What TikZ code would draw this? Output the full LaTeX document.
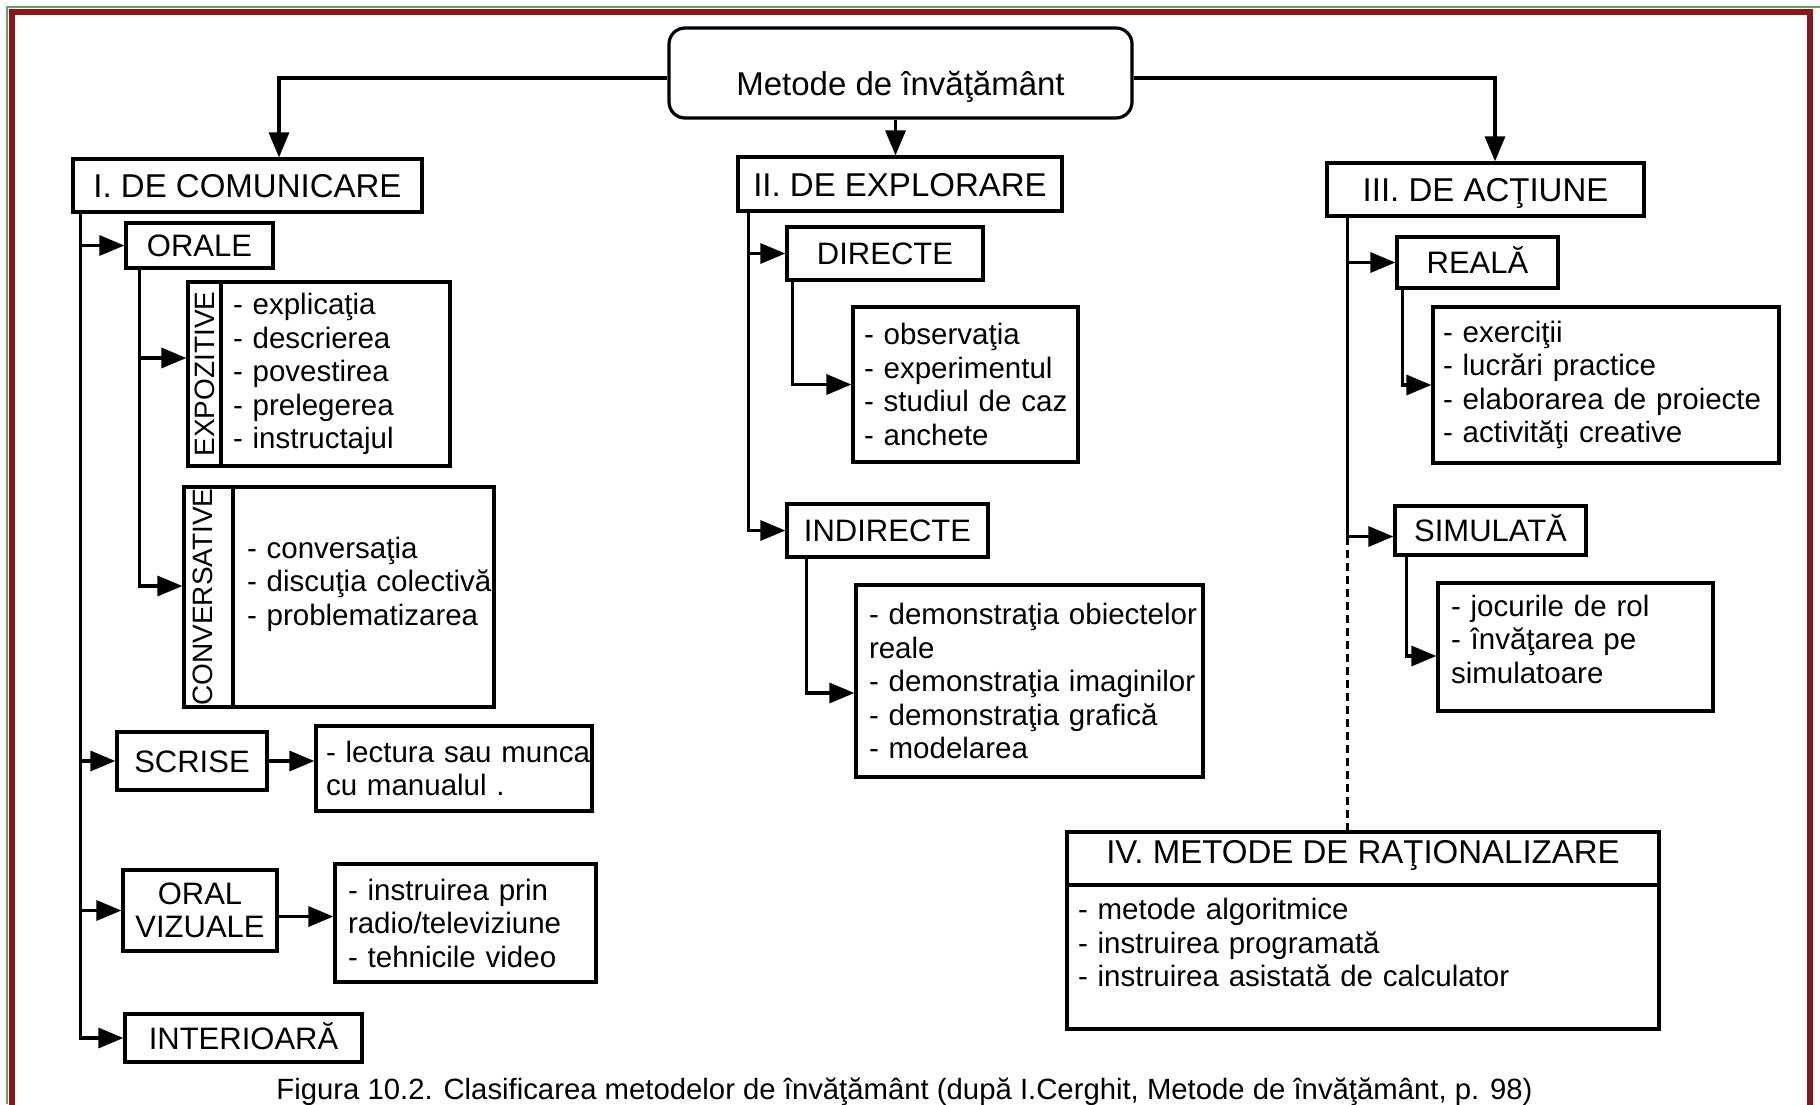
\documentclass[tikz,border=0pt]{standalone}
\usepackage{fontspec}
\setmainfont{Liberation Sans}
\usetikzlibrary{arrows.meta}
\newcommand\HeadF{\fontsize{33}{38}\selectfont}
\newcommand\SubF{\fontsize{31}{33.5}\selectfont}
\newcommand\ItemF{\fontsize{29.5}{33.5}\selectfont}
\newcommand\VertF{\fontsize{28}{30}\selectfont}
\newcommand\CapF{\fontsize{29.3}{32}\selectfont}
\newcommand\Lyne[1]{\mbox{#1}}
\definecolor{framered}{RGB}{140,22,22}
\definecolor{framegreen}{RGB}{104,160,112}
\tikzset{
  bx/.style={draw, line width=3.2pt, inner sep=0pt, align=center},
  head/.style={bx, font=\HeadF, text height=24pt, text depth=0pt},
  sub/.style={bx, font=\SubF, text height=22pt, text depth=0pt},
  lst/.style={bx, font=\ItemF, align=left, inner ysep=0pt},
  vlab/.style={bx, font=\VertF, rotate=90, text height=20pt, text depth=0pt},
  con/.style={line width=3.2pt},
  arr/.style={con, -{Triangle[length=25pt,width=20pt]}},
  dsh/.style={line width=2.6pt, dash pattern=on 8pt off 5pt},
}
\begin{document}
\begin{tikzpicture}[x=1pt,y=-1pt]
\useasboundingbox (0,0) rectangle (1820,1104);
\fill[white] (0,0) rectangle (1820,1104);
% frame
\draw[framegreen, line width=2pt] (7,1104) -- (7,7) -- (1820,7);
\draw[framered, line width=6pt] (11.5,12) rectangle (1809.5,1112);

% top
\node[head, minimum width=463pt, minimum height=90pt, rounded corners=16pt, text height=60pt, text depth=16pt] (top) at (900.5,73) {Metode de învăţământ};

% level 1
\node[head, minimum width=349pt, minimum height=53pt] (I) at (247.5,185.5) {I. DE COMUNICARE};
\node[head, minimum width=324pt, minimum height=54pt] (II) at (900,184) {II. DE EXPLORARE};
\node[head, minimum width=317pt, minimum height=53pt] (III) at (1485.5,189.5) {III. DE ACŢIUNE};

% I. column
\node[sub, minimum width=147pt, minimum height=45pt] (orale) at (199.5,245.5) {ORALE};
\node[vlab, minimum width=184pt, minimum height=33pt] (expL) at (204.5,374) {EXPOZITIVE};
\node[lst, inner xsep=12pt, text width=205pt, minimum height=184pt] (expT) at (335.5,374)
  {\Lyne{- explicaţia}\\\Lyne{- descrierea}\\\Lyne{- povestirea}\\\Lyne{- prelegerea}\\\Lyne{- instructajul}};
\node[vlab, minimum width=220pt, minimum height=49pt, text depth=12pt] (convL) at (208.5,597) {CONVERSATIVE};
\node[lst, inner xsep=14pt, text width=233pt, minimum height=220pt, text depth=99pt] (convT) at (363.5,597)
  {\Lyne{- conversaţia}\\\Lyne{- discuţia colectivă}\\\Lyne{- problematizarea}};
\node[sub, minimum width=150pt, minimum height=58pt] (scrise) at (192,761) {SCRISE};
\node[lst, inner xsep=10pt, text width=256pt, minimum height=85pt] (lect) at (454,768.5)
  {\Lyne{- lectura sau munca}\\\Lyne{cu manualul .}};
\node[bx, font=\SubF, minimum width=154pt, minimum height=81pt] (ov) at (200,910.5) {ORAL\\VIZUALE};
\node[lst, inner xsep=13pt, text width=235pt, minimum height=118pt] (instr) at (465.5,923)
  {\Lyne{- instruirea prin}\\\Lyne{radio/televiziune}\\\Lyne{- tehnicile video}};
\node[sub, minimum width=237pt, minimum height=48pt] (inter) at (243.5,1038) {INTERIOARĂ};

% II. column
\node[sub, minimum width=196pt, minimum height=53pt] (direct) at (885,253.5) {DIRECTE};
\node[lst, inner xsep=11pt, text width=203pt, minimum height=155pt] (obs) at (965.5,384.5)
  {\Lyne{- observaţia}\\\Lyne{- experimentul}\\\Lyne{- studiul de caz}\\\Lyne{- anchete}};
\node[sub, minimum width=201pt, minimum height=53pt] (indir) at (887.5,530.5) {INDIRECTE};
\node[lst, inner xsep=13pt, text width=321pt, minimum height=192pt] (demo) at (1029.5,681)
  {\Lyne{- demonstraţia obiectelor}\\\Lyne{reale}\\\Lyne{- demonstraţia imaginilor}\\\Lyne{- demonstraţia grafică}\\\Lyne{- modelarea}};

% III. column
\node[sub, minimum width=161pt, minimum height=51pt] (real) at (1477.5,262.5) {REALĂ};
\node[lst, inner xsep=10pt, text width=326pt, minimum height=156pt] (exer) at (1606,385)
  {\Lyne{- exerciţii}\\\Lyne{- lucrări practice}\\\Lyne{- elaborarea de proiecte}\\\Lyne{- activităţi creative}};
\node[sub, minimum width=191pt, minimum height=49pt] (sim) at (1490.5,530.5) {SIMULATĂ};
\node[lst, inner xsep=13pt, text width=249pt, minimum height=128pt, text depth=83pt] (joc) at (1575.5,647)
  {\Lyne{- jocurile de rol}\\\Lyne{- învăţarea pe}\\\Lyne{simulatoare}};

% IV
\node[head, minimum width=592pt, minimum height=53pt, text depth=14pt] (ivT) at (1363,858.5) {IV. METODE DE RAŢIONALIZARE};
\node[lst, inner xsep=11pt, text width=570pt, minimum height=144pt, text depth=96pt] (ivL) at (1363,957)
  {\Lyne{- metode algoritmice}\\\Lyne{- instruirea programată}\\\Lyne{- instruirea asistată de calculator}};

% caption
\node[font=\CapF, anchor=base, inner sep=0pt] (cap) at (904.5,1099) {Figura 10.2. Clasificarea metodelor de învăţământ (după I.Cerghit, Metode de învăţământ, p. 98)};

% connectors from top
\coordinate (tl) at ([yshift=-5pt]top.west);
\coordinate (tr) at ([yshift=-5pt]top.east);
\coordinate (Itop) at ([xshift=31.5pt]I.north);
\coordinate (IIItop) at ([xshift=9.5pt]III.north);
\coordinate (tb) at ([xshift=-5pt]top.south);
\draw[arr] (tl) -| (Itop);
\draw[arr] (tr) -| (IIItop);
\draw[arr] (tb) -- (tb |- II.north);

% I trunk
\coordinate (Itr) at ([xshift=9pt]I.south west);
\draw[arr] (Itr) |- (inter.west);
\draw[arr] (Itr |- orale.west) -- (orale.west);
\draw[arr] (Itr |- scrise.west) -- (scrise.west);
\draw[arr] (Itr |- ov.west) -- (ov.west);
\coordinate (Otr) at ([xshift=15pt]orale.south west);
% rotated label nodes: their north anchor is the left side on the page
\coordinate (expA) at ([yshift=16pt]expL.north);
\coordinate (convA) at ([yshift=11pt]convL.north);
\draw[arr] (Otr) |- (convA);
\draw[arr] (Otr |- expA) -- (expA);
\draw[arr] (scrise.east) -- (scrise.east -| lect.west);
\coordinate (ovA) at ([yshift=-6pt]ov.east);
\draw[arr] (ovA) -- (ovA -| instr.west);

% II trunk
\coordinate (IItr) at ([xshift=12pt]II.south west);
\draw[arr] (IItr) |- (indir.west);
\draw[arr] (IItr |- direct.west) -- (direct.west);
\coordinate (Dtr) at ([xshift=7pt]direct.south west);
\draw[arr] (Dtr) |- (obs.west);
\coordinate (NDtr) at ([xshift=21pt]indir.south west);
\coordinate (demoA) at ([yshift=-12pt]demo.west);
\draw[arr] (NDtr) |- (demoA);

% III trunk
\coordinate (IIItr) at ([xshift=22pt]III.south west);
\coordinate (simA) at ([yshift=-6pt]sim.west);
\draw[arr] (IIItr) |- (simA);
\draw[arr] (IIItr |- real.west) -- (real.west);
\draw[dsh] (IIItr |- simA) -- (IIItr |- ivT.north);
\coordinate (Rtr) at ([xshift=7pt]real.south west);
\draw[arr] (Rtr) |- (exer.west);
\coordinate (Str) at ([xshift=13pt]sim.south west);
\coordinate (jocA) at ([yshift=-9pt]joc.west);
\draw[arr] (Str) |- (jocA);
\end{tikzpicture}
\end{document}
